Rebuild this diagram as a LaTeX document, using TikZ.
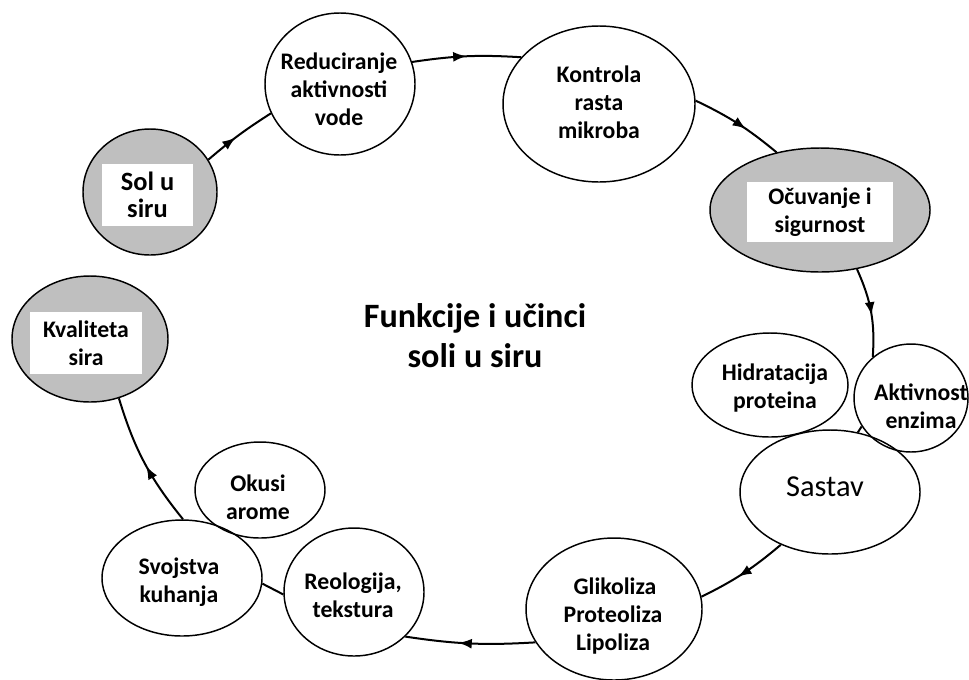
\documentclass[tikz,border=0pt]{standalone}
\usepackage{fontspec}
\setmainfont{Carlito}
\usetikzlibrary{shapes.geometric,arrows.meta,decorations.markings}
\definecolor{shade}{RGB}{191,191,191}
\tikzset{
  bub/.style 2 args={ellipse, draw=black, line width=1.1pt, minimum width=#1*1.5pt, minimum height=#2*1.5pt, inner sep=0pt},
  graybub/.style={fill=shade},
  plate/.style 2 args={fill=white, minimum width=#1*0.75pt, minimum height=#2*0.75pt, inner sep=0pt, align=center},
  txt/.style={font=\fontsize{17.8}{21}\selectfont\bfseries, align=center, inner sep=0pt},
  bigtxt/.style={font=\fontsize{19.8}{20.5}\selectfont\bfseries, align=center, inner sep=0pt},
  regtxt/.style={font=\fontsize{22.8}{26}\selectfont, align=center, inner sep=0pt},
  titletxt/.style={font=\fontsize{25.6}{30}\selectfont\bfseries, align=center, inner sep=0pt},
  conn/.style={draw=black, line width=1.5pt},
  midarr/.style={postaction={decorate}, decoration={markings, mark=at position #1 with {\arrow{Latex[length=10pt,width=7.5pt]}}}}
}
\begin{document}
\begin{tikzpicture}[x=0.75pt,y=-0.75pt]
\useasboundingbox (0,0) rectangle (969,679);

% bubbles
\node[bub={67}{63},graybub] (sol) at (150,192) {};
\node[plate={91}{62},bigtxt] (solT) at (147.5,195) {Sol u\\siru};

\node[bub={75}{71}] (red) at (340,84) {};
\node[txt] (redT) at (339,89) {Reduciranje\\aktivnosti\\vode};

\node[bub={96}{78}] (kon) at (599,104) {};
\node[txt] (konT) at (599,102) {Kontrola\\rasta\\mikroba};

\node[bub={110}{62},graybub] (ocu) at (820,210) {};
\node[plate={146}{60},txt] (ocuT) at (820,212) {Očuvanje i\\sigurnost};

\node[bub={78}{52}] (hid) at (770,385) {};
\node[txt] (hidT) at (775,388) {Hidratacija\\proteina};

\node[bub={57}{54}] (akt) at (911,398) {};
\node[txt] (aktT) at (921,406) {Aktivnost\\enzima};

\node[bub={90}{62}] (sas) at (830,492) {};
\node[regtxt] (sasT) at (825,487) {Sastav};

\node[bub={88}{71}] (gli) at (614,609) {};
\node[txt] (gliT) at (613,616) {\,Glikoliza\\Proteoliza\\Lipoliza};

\node[bub={70}{64}] (reo) at (354,592) {};
\node[txt] (reoT) at (353,595) {Reologija,\\tekstura};

\node[bub={80}{58}] (svo) at (182,578) {};
\node[txt] (svoT) at (179,582) {Svojstva\\kuhanja};

\node[bub={65}{48}] (oku) at (260,490) {};
\node[txt] (okuT) at (258,497) {Okusi\\arome};

\node[bub={78}{63},graybub] (kva) at (90,339) {};
\node[plate={112}{62},txt] (kvaT) at (86,343) {Kvaliteta\\sira};

% title
\node[titletxt] (title) at (475,336) {Funkcije i učinci\\soli u siru};

% connectors
\draw[conn, midarr=0.45] (sol.29) to[bend left=4] (red.203);
\draw[conn, midarr=0.5] (red.17) to[bend left=6] (kon.149);
\draw[conn, midarr=0.6] (kon.2) to[bend left=7] (ocu.127);
\draw[conn, midarr=0.54] (ocu.-58) to[bend left=14] (akt.133);
\draw[conn] (akt.210) -- (sas.65);
\draw[conn, midarr=0.56] (sas.227) to[bend left=7] (gli.8);
\draw[conn, midarr=0.59] (gli.203) to[bend left=6] (reo.-41);
\draw[conn] (reo.182) -- (svo.-4);
\draw[conn, midarr=0.47] (svo.89) to[bend left=11] (kva.-64);
\end{tikzpicture}
\end{document}
